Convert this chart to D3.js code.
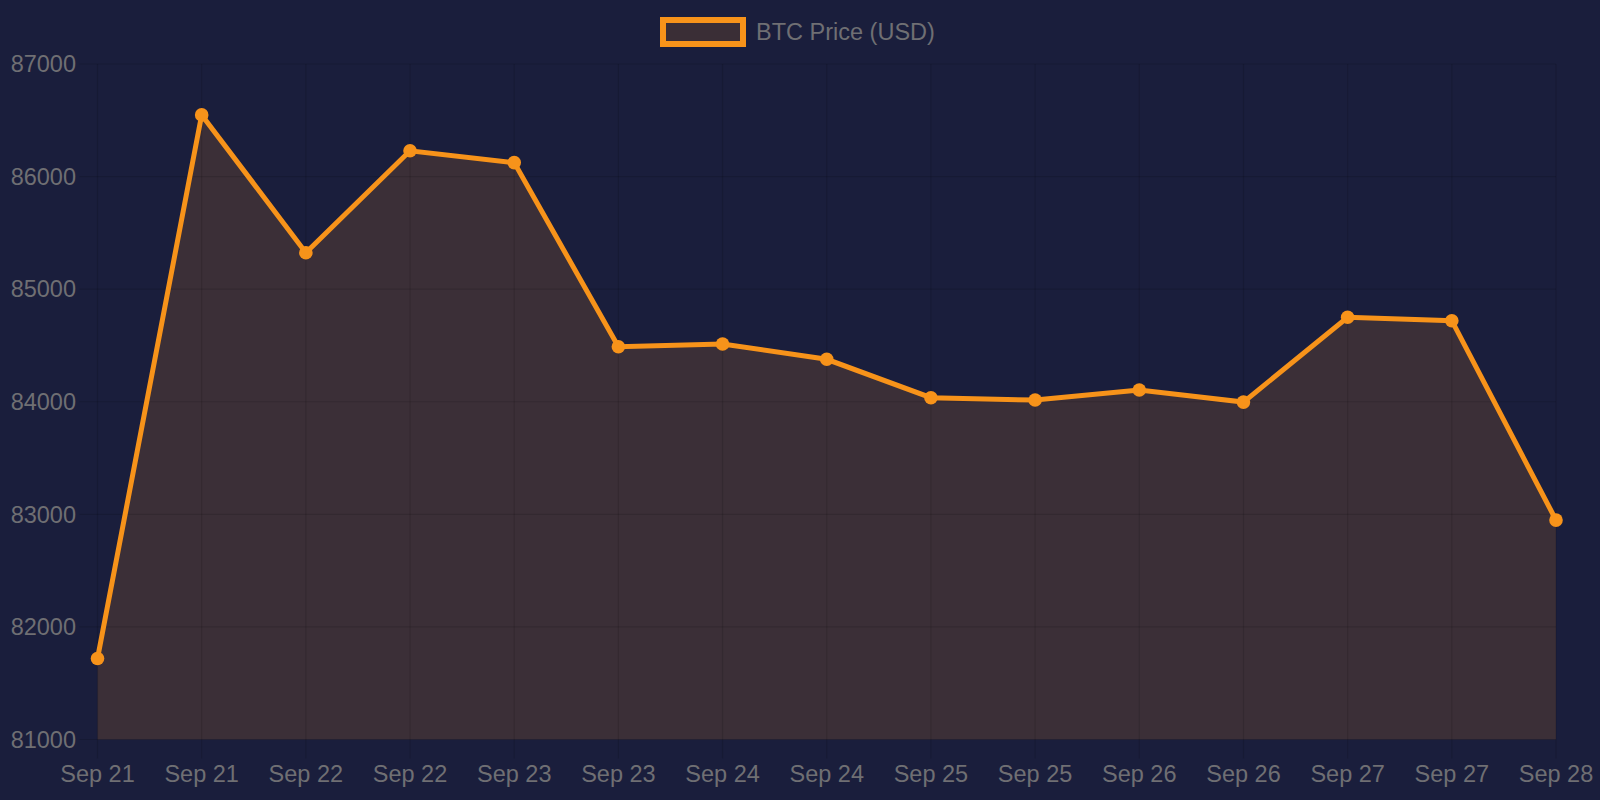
<!DOCTYPE html>
<html>
<head>
<meta charset="utf-8">
<script src="https://cdn.jsdelivr.net/npm/d3@7"></script>
<style>
  html, body { margin: 0; padding: 0; background: #1a1e3c; }
  svg { display: block; }
</style>
</head>
<body>
<svg id="chart" width="1600" height="800"></svg>
<script>
const labels = ["Sep 21","Sep 21","Sep 22","Sep 22","Sep 23","Sep 23","Sep 24","Sep 24","Sep 25","Sep 25","Sep 26","Sep 26","Sep 27","Sep 27","Sep 28"];
const prices = [81719, 86548, 85324, 86229, 86124, 84489, 84513, 84377, 84036, 84015, 84104, 83997, 84750, 84720, 82949];
const yTicks = [81000, 82000, 83000, 84000, 85000, 86000, 87000];
const seriesName = "BTC Price (USD)";

(function () {
const W = 1600, H = 800;
const plotLeft = 97.5, plotRight = 1556, plotTop = 64, plotBottom = 739.5;
const orange = "#f7931a";
const fill = "rgba(247,147,26,0.15)";
const grid = "rgba(0,0,0,0.12)";
const textColor = "#6f6f73";
const font = "'Liberation Sans', Arial, Helvetica, sans-serif";

const svg = d3.select("#chart");
svg.append("rect").attr("width", W).attr("height", H).attr("fill", "#1a1e3c");

const idx = d3.range(labels.length);
const x = d3.scalePoint().domain(idx).range([plotLeft, plotRight]);
const y = d3.scaleLinear().domain([81000, 87000]).range([plotBottom, plotTop]);

// area fill
const area = d3.area().x((d, i) => x(i)).y0(plotBottom).y1(d => y(d));
svg.append("path").datum(prices).attr("d", area).attr("fill", fill);

// grid lines
const g = svg.append("g");
g.selectAll("line.v").data(idx).join("line")
  .attr("x1", d => x(d)).attr("x2", d => x(d))
  .attr("y1", plotTop).attr("y2", plotBottom + 19)
  .attr("stroke", grid).attr("stroke-width", 1.2);
g.selectAll("line.h").data(yTicks).join("line")
  .attr("x1", plotLeft - 18).attr("x2", plotRight)
  .attr("y1", d => y(d)).attr("y2", d => y(d))
  .attr("stroke", grid).attr("stroke-width", 1.2);

// y tick labels
svg.append("g").selectAll("text").data(yTicks).join("text")
  .attr("x", 76).attr("y", d => y(d))
  .attr("dy", "0.35em")
  .attr("text-anchor", "end")
  .attr("fill", textColor)
  .style("font-family", font).style("font-size", "23.5px")
  .text(d => d);

// x tick labels
svg.append("g").selectAll("text").data(idx).join("text")
  .attr("x", d => x(d)).attr("y", 782)
  .attr("text-anchor", "middle")
  .attr("fill", textColor)
  .style("font-family", font).style("font-size", "23.5px")
  .text(d => labels[d]);

// line
const line = d3.line().x((d, i) => x(i)).y(d => y(d));
svg.append("path").datum(prices).attr("d", line)
  .attr("fill", "none").attr("stroke", orange)
  .attr("stroke-width", 5).attr("stroke-linejoin", "miter");

// points
svg.append("g").selectAll("circle").data(prices).join("circle")
  .attr("cx", (d, i) => x(i)).attr("cy", d => y(d))
  .attr("r", 6.8).attr("fill", orange);

// legend
const lg = svg.append("g");
lg.append("rect").attr("x", 663).attr("y", 20).attr("width", 80).attr("height", 24)
  .attr("fill", "#3a2e36").attr("stroke", orange).attr("stroke-width", 6);
lg.append("text").attr("x", 756).attr("y", 32).attr("dy", "0.35em")
  .attr("fill", textColor)
  .style("font-family", font).style("font-size", "23.5px")
  .text(seriesName);
})();
</script>
</body>
</html>
